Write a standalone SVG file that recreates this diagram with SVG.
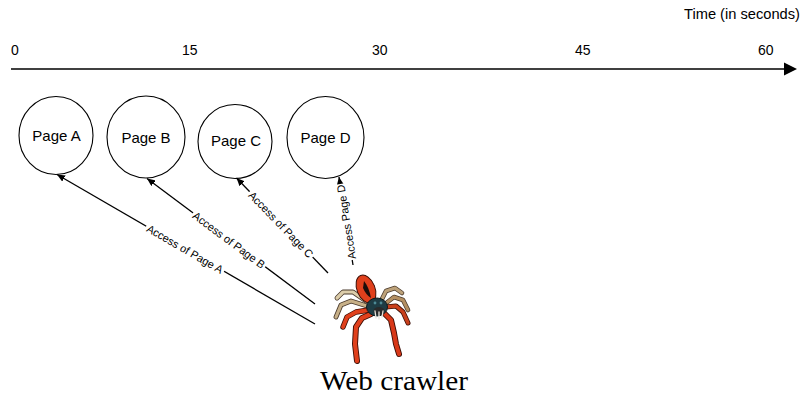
<svg xmlns="http://www.w3.org/2000/svg" width="806" height="397" viewBox="0 0 806 397">
  <style>
    .axis-label { font-family: "Liberation Sans", Arial, sans-serif; font-size: 14px; fill: #000; }
    .node-shape { fill: #fff; stroke: #000; stroke-width: 1.1; }
    .node-label { font-family: "Liberation Sans", Arial, sans-serif; font-size: 15px; fill: #000; text-anchor: middle; }
    .edge { stroke: #000; stroke-width: 1.3; fill: none; marker-end: url(#arrow); }
    .edge-label { font-family: "Liberation Sans", Arial, sans-serif; font-size: 11px; fill: #000; text-anchor: middle; }
    .edge-bg { fill: #fff; }
    .leg { fill: none; stroke-linecap: round; stroke-linejoin: round; }
  </style>
  <defs>
    <marker id="arrow" markerUnits="userSpaceOnUse" markerWidth="8" markerHeight="7" refX="8" refY="3.5" orient="auto">
      <path d="M0,0 L8,3.5 L0,7 z" fill="#000"/>
    </marker>
  </defs>

  <rect width="806" height="397" fill="#fff"/>

  <!-- time axis -->
  <g id="time-axis">
    <text class="axis-label" x="800" y="19" text-anchor="end" textLength="116" lengthAdjust="spacingAndGlyphs">Time (in seconds)</text>
    <text class="axis-label" x="11" y="55">0</text>
    <text class="axis-label" x="182" y="55">15</text>
    <text class="axis-label" x="372" y="55">30</text>
    <text class="axis-label" x="575" y="55">45</text>
    <text class="axis-label" x="758" y="55">60</text>
    <line x1="11" y1="69" x2="786" y2="69" stroke="#000" stroke-width="1.7"/>
    <polygon points="797,69 784,62.5 784,75.5" fill="#000"/>
  </g>

  <!-- pages -->
  <g id="page-a">
    <ellipse class="node-shape" cx="56" cy="135.5" rx="37" ry="39"/>
    <text class="node-label" x="56.5" y="141">Page A</text>
  </g>
  <g id="page-b">
    <ellipse class="node-shape" cx="146" cy="137" rx="39" ry="41"/>
    <text class="node-label" x="146" y="143">Page B</text>
  </g>
  <g id="page-c">
    <ellipse class="node-shape" cx="235" cy="141.5" rx="37" ry="37"/>
    <text class="node-label" x="236" y="146">Page C</text>
  </g>
  <g id="page-d">
    <ellipse class="node-shape" cx="325.5" cy="137.5" rx="38.5" ry="41"/>
    <text class="node-label" x="325.5" y="143">Page D</text>
  </g>

  <!-- access connectors -->
  <g id="connectors">
    <line class="edge" x1="315" y1="324" x2="57" y2="174.5"/>
    <line class="edge" x1="315" y1="304" x2="147" y2="178.5"/>
    <line class="edge" x1="328" y1="273" x2="236.5" y2="178"/>
    <line class="edge" x1="353" y1="265" x2="339" y2="177"/>

    <g transform="translate(185,249) rotate(30)">
      <rect class="edge-bg" x="-45" y="-6" width="90" height="12"/>
      <text class="edge-label" y="4">Access of Page A</text>
    </g>
    <g transform="translate(229,240) rotate(36.6)">
      <rect class="edge-bg" x="-45" y="-6" width="90" height="12"/>
      <text class="edge-label" y="4">Access of Page B</text>
    </g>
    <g transform="translate(281,224.5) rotate(45.9)">
      <rect class="edge-bg" x="-45.5" y="-6" width="91" height="12"/>
      <text class="edge-label" y="4">Access of Page C</text>
    </g>
    <g transform="translate(346.2,222) rotate(-99)">
      <rect class="edge-bg" x="-38.5" y="-6" width="77" height="12"/>
      <text class="edge-label" y="4">Access Page D</text>
    </g>
  </g>

  <!-- crawler -->
  <g id="web-crawler">
    <!-- beige rear legs, left -->
    <path class="leg" d="M366,301 L353,292 L343,292 L337,298" stroke="#4a3a2c" stroke-width="4.8"/>
    <path class="leg" d="M366,301 L353,292 L343,292 L337,298" stroke="#dccdaa" stroke-width="3.2"/>
    <path class="leg" d="M367,306 L351,301 L341,305 L336,317" stroke="#4a3a2c" stroke-width="4.8"/>
    <path class="leg" d="M367,306 L351,301 L341,305 L336,317" stroke="#c7b088" stroke-width="3.2"/>
    <!-- beige rear legs, right -->
    <path class="leg" d="M381,301 L386,291 L395,288 L402,293" stroke="#4a3a2c" stroke-width="4.6"/>
    <path class="leg" d="M381,301 L386,291 L395,288 L402,293" stroke="#bda27a" stroke-width="3"/>
    <path class="leg" d="M385,304 L394,297 L403,300 L408,310" stroke="#4a3a2c" stroke-width="4.6"/>
    <path class="leg" d="M385,304 L394,297 L403,300 L408,310" stroke="#b38f62" stroke-width="3"/>
    <!-- red front legs -->
    <path class="leg" d="M369,310 L356,312 L347,317 L343,327" stroke="#3a0d05" stroke-width="5.4"/>
    <path class="leg" d="M369,310 L356,312 L347,317 L343,327" stroke="#e0401c" stroke-width="3.8"/>
    <path class="leg" d="M371,314 L362,318 L356,327 L355,344 L357,361" stroke="#3a0d05" stroke-width="6"/>
    <path class="leg" d="M371,314 L362,318 L356,327 L355,344 L357,361" stroke="#e0401c" stroke-width="4.2"/>
    <path class="leg" d="M384,313 L391,320 L394,333 L396,344 L399,354" stroke="#3a0d05" stroke-width="6"/>
    <path class="leg" d="M384,313 L391,320 L394,333 L396,344 L399,354" stroke="#d83818" stroke-width="4.2"/>
    <path class="leg" d="M386,307 L396,306 L403,312 L408,323" stroke="#3a0d05" stroke-width="5"/>
    <path class="leg" d="M386,307 L396,306 L403,312 L408,323" stroke="#c8401c" stroke-width="3.4"/>
    <!-- abdomen -->
    <ellipse cx="366" cy="289" rx="9" ry="14.5" transform="rotate(-22 366 289)" fill="#e0401c" stroke="#3a0d05" stroke-width="1"/>
    <path d="M364,281 Q369,287 371,298 Q366,295 363,288 Z" fill="#1a0d0a"/>
    <!-- cephalothorax and face -->
    <ellipse cx="377" cy="307" rx="10.5" ry="9" fill="#1e3c44" stroke="#0d1a1c" stroke-width="1"/>
    <ellipse cx="379" cy="311" rx="5.5" ry="4" fill="#2a2a2a"/>
    <path d="M375,311 L376,318 M379,312 L379,319 M383,311 L382,317" stroke="#e8e4dc" stroke-width="1.3" stroke-linecap="round"/>
    <circle cx="375" cy="303" r="1.4" fill="#4d8a96"/>
    <circle cx="381" cy="303" r="1.4" fill="#4d8a96"/>
    <text x="320" y="390" font-family="'Liberation Serif', 'Times New Roman', serif" font-size="27" textLength="148" lengthAdjust="spacingAndGlyphs" fill="#000">Web crawler</text>
  </g>
</svg>
